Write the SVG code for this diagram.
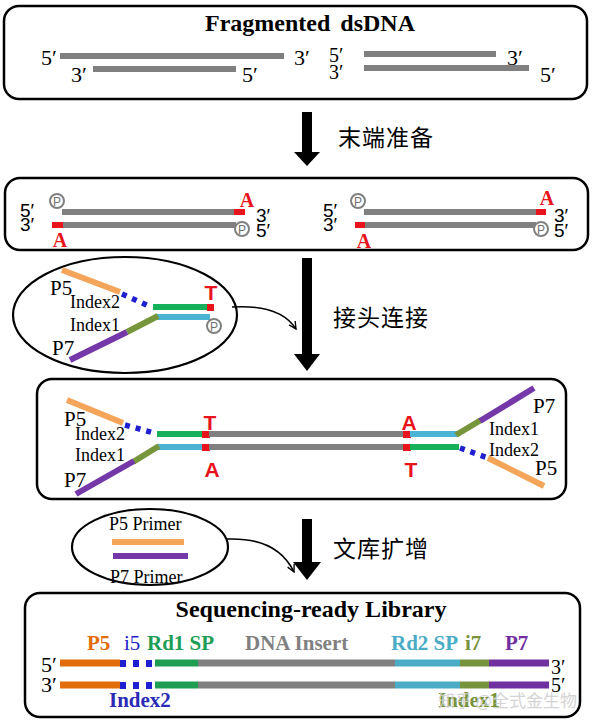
<svg xmlns="http://www.w3.org/2000/svg" width="600" height="727" viewBox="0 0 600 727">
<defs>
<style>
.box{fill:none;stroke:#000;stroke-width:2.5}
.ell{fill:none;stroke:#000;stroke-width:2.2}
.tm{font-family:"Liberation Serif","Times New Roman",serif}
.bk{fill:#000}
.sn{font-family:"Liberation Sans",Arial,sans-serif;fill:#000}
.n22{font-size:22px}
.n20{font-size:20px}
.n19{font-size:19px}
.lab{font-size:18px}
.p21{font-size:21px}
.cjk{font-family:"Noto Sans CJK SC",sans-serif;font-size:23px;fill:#000;letter-spacing:1px}
.gray{stroke:#808080;stroke-width:6;fill:none}
.red{fill:#e8141b}
.redA{font-family:"Liberation Serif",serif;font-weight:bold;font-size:20px;fill:#e8141b;text-anchor:middle}
.redT{font-family:"Liberation Sans",Arial,sans-serif;font-weight:bold;font-size:21px;fill:#e8141b;text-anchor:middle}
.pc{fill:#fff;stroke:#808080;stroke-width:2}
.pt{font-family:"Liberation Sans",Arial,sans-serif;font-size:12px;fill:#707070;text-anchor:middle}
.org{stroke:#f5a55a;stroke-width:6;fill:none}
.grn{stroke:#16b05a;stroke-width:6;fill:none}
.cyn{stroke:#4bb3d3;stroke-width:6;fill:none}
.olv{stroke:#77963c;stroke-width:6;fill:none}
.pur{stroke:#7538a8;stroke-width:6;fill:none}
.dot{stroke:#1f1fd0;stroke-width:5.5;fill:none;stroke-dasharray:5 6}
.blk{fill:#000}
.thin{fill:none;stroke:#000;stroke-width:1.5}
.lb{font-family:"Liberation Serif","Times New Roman",serif;font-weight:bold;font-size:21px}
</style>
<marker id="open" viewBox="0 0 10 10" refX="9" refY="5" markerWidth="9" markerHeight="9" orient="auto" markerUnits="userSpaceOnUse">
<path d="M1 1 L9 5 L1 9" fill="none" stroke="#000" stroke-width="1.5"/>
</marker>
</defs>

<g id="connectors">
<rect class="blk" x="302" y="112" width="10" height="41"/>
<polygon class="blk" points="294,152 320,152 307,166"/>
<rect class="blk" x="302" y="258" width="10" height="97"/>
<polygon class="blk" points="294,354 320,354 307,371"/>
<rect class="blk" x="302" y="519" width="10" height="44"/>
<polygon class="blk" points="293,562 321,562 307,580"/>
<path class="thin" d="M232 307 Q280 304 296 329" marker-end="url(#open)"/>
<path class="thin" d="M227 539 Q277 537 294 572" marker-end="url(#open)"/>
</g>

<g id="label-end-prep"><text class="cjk" x="338" y="146">末端准备</text></g>
<g id="label-ligation"><text class="cjk" x="333" y="326">接头连接</text></g>
<g id="label-amplify"><text class="cjk" x="333" y="557">文库扩增</text></g>

<g id="fragmented">
<rect class="box" x="4" y="6" width="583" height="93" rx="15"/>
<text class="tm bk" x="310" y="31" font-size="24" font-weight="bold" text-anchor="middle" word-spacing="4">Fragmented dsDNA</text>
<line class="gray" x1="60" y1="56" x2="284" y2="56"/>
<line class="gray" x1="93" y1="69" x2="236" y2="69"/>
<text class="tm bk n22" x="41" y="65">5′</text>
<text class="tm bk n22" x="294" y="65">3′</text>
<text class="tm bk n22" x="71" y="82">3′</text>
<text class="tm bk n22" x="242" y="82">5′</text>
<line class="gray" x1="364" y1="54" x2="496" y2="54"/>
<line class="gray" x1="364" y1="68" x2="529" y2="68"/>
<text class="tm bk n20" x="329" y="62">5′</text>
<text class="tm bk n20" x="329" y="79">3′</text>
<text class="tm bk n22" x="507" y="65">3′</text>
<text class="tm bk n22" x="540" y="82">5′</text>
</g>

<g id="end-prepared">
<rect class="box" x="5" y="178" width="583" height="72" rx="15"/>
<text class="sn n19" x="20" y="217">5′</text>
<text class="sn n19" x="20" y="231">3′</text>
<line class="gray" x1="62" y1="212" x2="235" y2="212"/>
<rect class="red" x="234" y="209" width="11" height="6"/>
<circle class="pc" cx="57" cy="201" r="7"/><text class="pt" x="57" y="205.5">P</text>
<text class="redA" x="247" y="207">A</text>
<text class="sn n19" x="256" y="222">3′</text>
<text class="sn n19" x="256" y="237">5′</text>
<rect class="red" x="52" y="222" width="11" height="6"/>
<line class="gray" x1="63" y1="225" x2="236" y2="225"/>
<circle class="pc" cx="242" cy="229" r="7"/><text class="pt" x="242" y="233.5">P</text>
<text class="redA" x="60" y="247">A</text>

<text class="sn n19" x="323" y="217">5′</text>
<text class="sn n19" x="323" y="231">3′</text>
<line class="gray" x1="364" y1="212" x2="537" y2="212"/>
<rect class="red" x="536" y="209" width="10" height="6"/>
<circle class="pc" cx="358" cy="201" r="7"/><text class="pt" x="358" y="205.5">P</text>
<text class="redA" x="547" y="205">A</text>
<text class="sn n19" x="554" y="222">3′</text>
<text class="sn n19" x="554" y="237">5′</text>
<rect class="red" x="355" y="222" width="10" height="6"/>
<line class="gray" x1="365" y1="225" x2="536" y2="225"/>
<circle class="pc" cx="541" cy="229" r="7"/><text class="pt" x="541" y="233.5">P</text>
<text class="redA" x="364" y="248">A</text>
</g>

<g id="adapter">
<ellipse class="ell" cx="125" cy="315" rx="112" ry="58"/>
<line class="org" x1="62" y1="270" x2="120" y2="292"/>
<line class="dot" x1="122" y1="294" x2="149" y2="306"/>
<line class="grn" x1="153" y1="307" x2="207" y2="307"/>
<rect class="red" x="207" y="304" width="7" height="7"/>
<text class="redT" x="211" y="300">T</text>
<line class="cyn" x1="157" y1="317" x2="210" y2="317"/>
<circle class="pc" cx="214" cy="326" r="7"/><text class="pt" x="214" y="330.5">P</text>
<line class="olv" x1="158" y1="316" x2="127" y2="332"/>
<line class="pur" x1="127" y1="332" x2="70" y2="360"/>
<text class="tm bk p21" x="50" y="295">P5</text>
<text class="tm bk lab" x="70" y="308">Index2</text>
<text class="tm bk lab" x="70" y="331">Index1</text>
<text class="tm bk p21" x="52" y="355">P7</text>
</g>

<g id="ligated">
<rect class="box" x="37" y="379" width="529" height="120" rx="15"/>
<line class="org" x1="67" y1="400" x2="123" y2="423"/>
<line class="dot" x1="125" y1="425" x2="154" y2="433"/>
<line class="grn" x1="157" y1="434" x2="203" y2="434"/>
<rect class="red" x="202" y="431" width="8" height="7"/>
<line class="gray" x1="209" y1="434" x2="404" y2="434"/>
<rect class="red" x="403" y="431" width="8" height="7"/>
<line class="cyn" x1="410" y1="434" x2="457" y2="434"/>
<line class="olv" x1="456" y1="435" x2="481" y2="420"/>
<line class="pur" x1="480" y1="421" x2="534" y2="388"/>
<line class="cyn" x1="158" y1="447" x2="203" y2="447"/>
<rect class="red" x="202" y="444" width="8" height="7"/>
<line class="gray" x1="209" y1="447" x2="404" y2="447"/>
<rect class="red" x="403" y="444" width="8" height="7"/>
<line class="grn" x1="410" y1="447" x2="459" y2="447"/>
<line class="olv" x1="159" y1="446" x2="133" y2="462"/>
<line class="pur" x1="134" y1="461" x2="76" y2="494"/>
<line class="dot" x1="460" y1="448" x2="488" y2="458"/>
<line class="org" x1="488" y1="458" x2="544" y2="486"/>
<text class="redT" x="210" y="430">T</text>
<text class="redT" x="409" y="430">A</text>
<text class="redT" x="212" y="477">A</text>
<text class="redT" x="411" y="477">T</text>
<text class="tm bk p21" x="64" y="426">P5</text>
<text class="tm bk lab" x="75" y="440">Index2</text>
<text class="tm bk lab" x="75" y="461">Index1</text>
<text class="tm bk p21" x="64" y="487">P7</text>
<text class="tm bk p21" x="533" y="413">P7</text>
<text class="tm bk lab" x="489" y="435">Index1</text>
<text class="tm bk lab" x="489" y="456">Index2</text>
<text class="tm bk p21" x="535" y="475">P5</text>
</g>

<g id="primers">
<ellipse class="ell" cx="150" cy="547" rx="78" ry="38"/>
<text class="tm bk lab" x="109" y="530">P5 Primer</text>
<line class="org" x1="112" y1="542" x2="184" y2="542" stroke-width="7"/>
<line class="pur" x1="113" y1="556" x2="188" y2="556" stroke-width="7"/>
<text class="tm bk lab" x="110" y="583">P7 Primer</text>
</g>

<g id="library">
<rect class="box" x="25" y="593" width="555" height="124" rx="15"/>
<text class="tm bk" x="311" y="617" font-size="24" font-weight="bold" text-anchor="middle">Sequencing-ready Library</text>
<text class="lb" x="87" y="650" fill="#e36c0a">P5</text>
<text class="tm" x="124" y="650" font-size="21" fill="#2323c8">i5</text>
<text class="lb" x="147" y="650" fill="#1e9e55">Rd1 SP</text>
<text class="lb" x="245" y="650" fill="#808080">DNA Insert</text>
<text class="lb" x="391" y="650" fill="#4bacc6">Rd2 SP</text>
<text class="lb" x="465" y="650" fill="#77933c">i7</text>
<text class="lb" x="505" y="650" fill="#7030a0">P7</text>
<g stroke-width="7" fill="none">
<line x1="60" y1="663" x2="120" y2="663" stroke="#e36c0a"/>
<line x1="155" y1="663" x2="198" y2="663" stroke="#1e9e55"/>
<line x1="198" y1="663" x2="395" y2="663" stroke="#808080"/>
<line x1="395" y1="663" x2="460" y2="663" stroke="#4bacc6"/>
<line x1="460" y1="663" x2="489" y2="663" stroke="#77933c"/>
<line x1="489" y1="663" x2="549" y2="663" stroke="#7030a0"/>
<line x1="60" y1="685" x2="120" y2="685" stroke="#e36c0a"/>
<line x1="155" y1="685" x2="198" y2="685" stroke="#1e9e55"/>
<line x1="198" y1="685" x2="395" y2="685" stroke="#808080"/>
<line x1="395" y1="685" x2="460" y2="685" stroke="#4bacc6"/>
<line x1="460" y1="685" x2="489" y2="685" stroke="#77933c"/>
<line x1="489" y1="685" x2="549" y2="685" stroke="#7030a0"/>
</g>
<g fill="#1f1fd0">
<rect x="120" y="660" width="6" height="7"/><rect x="133" y="660" width="6" height="7"/><rect x="146" y="660" width="6" height="7"/>
<rect x="120" y="682" width="6" height="7"/><rect x="133" y="682" width="6" height="7"/><rect x="146" y="682" width="6" height="7"/>
</g>
<text class="tm bk n22" x="41" y="672">5′</text>
<text class="tm bk n22" x="41" y="692">3′</text>
<text class="tm bk n20" x="551" y="674">3′</text>
<text class="tm bk n20" x="551" y="692">5′</text>
<text class="lb" x="109" y="707" font-size="20" fill="#2b2bb8">Index2</text>
<text class="lb" x="438" y="707" font-size="20" fill="#77933c">Index1</text>
<text x="438" y="707" font-family="Noto Sans CJK SC,sans-serif" font-size="17" fill="#d0d0d0" opacity="0.9">知乎 @全式金生物</text>
</g>
</svg>
